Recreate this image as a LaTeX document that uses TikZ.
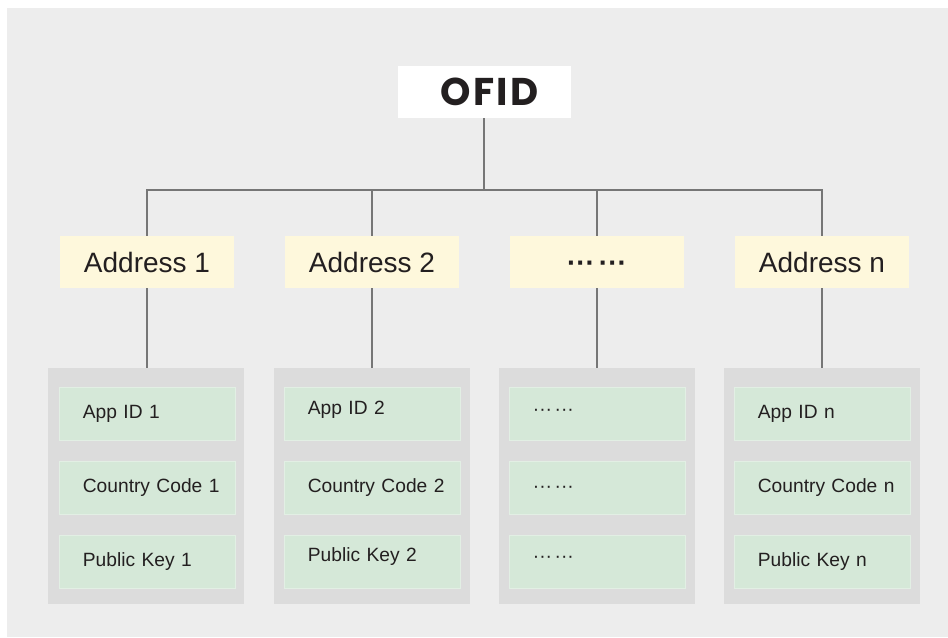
\documentclass[tikz,border=0pt]{standalone}
\usepackage{fontspec}
\setmainfont{Liberation Sans}
\newfontfamily\ofidfont{Poppins}
\usetikzlibrary{positioning,calc}

\definecolor{panelgray}{HTML}{EDEDED}
\definecolor{groupgray}{HTML}{DCDCDC}
\definecolor{fieldgreen}{HTML}{D5E8D8}
\definecolor{fieldedge}{HTML}{E2EFE4}
\definecolor{addryellow}{HTML}{FEF8DC}
\definecolor{linkgray}{HTML}{767676}
\definecolor{ink}{HTML}{231F20}

% field label font
\newcommand\fieldfont{\fontsize{14.4}{14.4}\selectfont}

% one drawing unit = 0.75pt; box sizes below are given in those units
\tikzset{
  rootbox/.style={fill=white, minimum width=173*0.75pt, minimum height=52*0.75pt, inner sep=0pt,
    text=ink, font=\ofidfont\bfseries\fontsize{29}{29}\selectfont},
  addrbox/.style={fill=addryellow, minimum width=174*0.75pt, minimum height=52*0.75pt, inner sep=0pt,
    text=ink, font=\fontsize{21}{21}\selectfont},
  groupbox/.style={fill=groupgray, minimum width=196*0.75pt, minimum height=236*0.75pt, inner sep=0pt},
  fieldbox/.style={fill=fieldgreen, draw=fieldedge, line width=0.6pt,
    minimum width=176*0.75pt, minimum height=53*0.75pt, inner sep=0pt},
  fieldtext/.style={inner xsep=18pt, inner ysep=0pt, text width=114pt, align=left,
    text=ink, font=\fieldfont},
  link/.style={draw=linkgray, line width=0.9pt}
}

\begin{document}
\begin{tikzpicture}[x=0.75pt, y=-0.75pt]
  \useasboundingbox (0,0) rectangle (948,637);
  \fill[panelgray] (7,8) rectangle (948,637);

  % root
  \node[rootbox] (ofid) at (484,92) {\hspace*{8pt}O\kern1.8ptF\kern1.8ptI\kern1.8ptD};
  \coordinate (bus) at (485,190);

  % address level
  \node[addrbox] (a1) at (147,262) {Address 1};
  \node[addrbox] (a2) at (372,262) {Address 2};
  \node[addrbox] (a3) at (597,262) {\vphantom{Ad}\bfseries···\hspace{3pt}···};
  \node[addrbox] (a4) at (822,262) {Address n};

  % field groups and their three field slots
  \foreach \i/\x in {1/146,2/372,3/597,4/822}{
    \node[groupbox] (g\i) at (\x,486) {};
  }
  \foreach \i/\x in {1/147,2/372,3/597,4/822}{
    \node[fieldbox] (f\i-a) at (\x,413.5) {};
    \node[fieldbox] (f\i-b) at (\x,488) {};
    \node[fieldbox] (f\i-c) at (\x,562) {};
  }

  % field labels, set from the left edge of each slot
  \node[fieldtext, anchor=west] (t1a) at (f1-a.west) {App ID 1};
  \node[fieldtext, anchor=west] (t1b) at (f1-b.west) {Country Code 1};
  \node[fieldtext, anchor=west] (t1c) at (f1-c.west) {Public Key 1};
  \node[fieldtext, anchor=west] (t2a) at ($(f2-a.west)+(0,-4)$) {App ID 2};
  \node[fieldtext, anchor=west] (t2b) at (f2-b.west) {Country Code 2};
  \node[fieldtext, anchor=west] (t2c) at ($(f2-c.west)+(0,-5)$) {Public Key 2};
  \node[fieldtext, anchor=west] (t3a) at ($(f3-a.west)+(0,-3)$) {\vphantom{Ap}···\hspace{2pt}···};
  \node[fieldtext, anchor=west] (t3b) at (f3-b.west) {\vphantom{Ap}···\hspace{2pt}···};
  \node[fieldtext, anchor=west] (t3c) at ($(f3-c.west)+(0,-4)$) {\vphantom{Ap}···\hspace{2pt}···};
  \node[fieldtext, anchor=west] (t4a) at (f4-a.west) {App ID n};
  \node[fieldtext, anchor=west] (t4b) at (f4-b.west) {Country Code n};
  \node[fieldtext, anchor=west] (t4c) at (f4-c.west) {Public Key n};

  % connectors
  \draw[link] (ofid.south) -- (ofid.south |- bus);
  \draw[link] (a1.north) |- (a4.north |- bus) -- (a4.north);
  \draw[link] (a2.north) -- (a2.north |- bus);
  \draw[link] (a3.north) -- (a3.north |- bus);
  \foreach \i in {1,2,3,4}{
    \draw[link] (a\i.south) -- (a\i.south |- g\i.north);
  }
\end{tikzpicture}
\end{document}
